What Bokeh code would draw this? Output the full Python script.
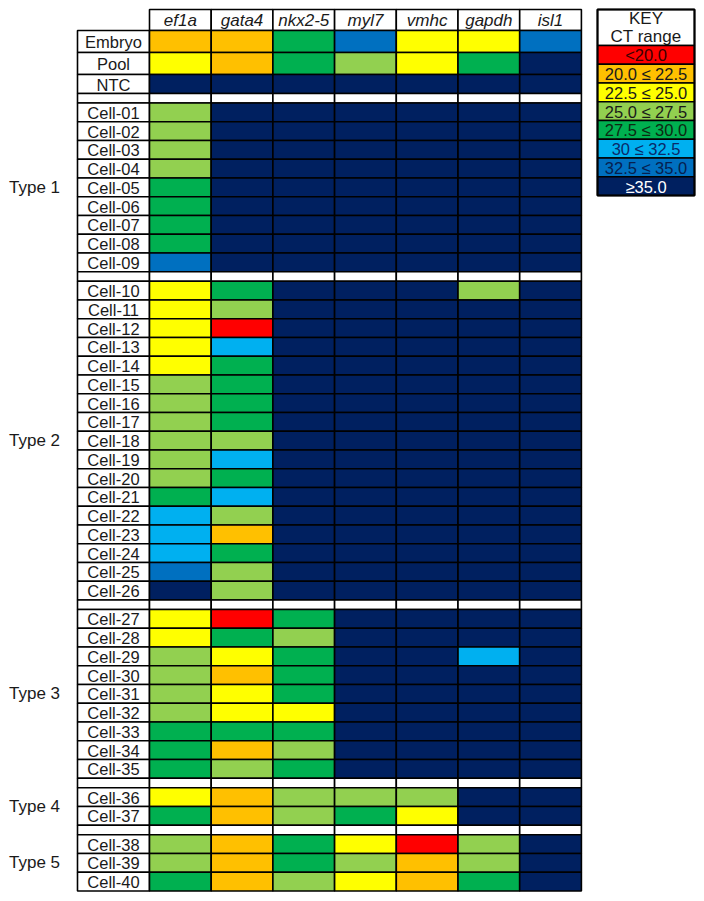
from bokeh.plotting import figure
from bokeh.models import Range1d, ColumnDataSource
from bokeh.embed import file_html
from bokeh.resources import INLINE
from bokeh.core.properties import value

# ---------------- data ----------------
genes = ["ef1a", "gata4", "nkx2-5", "myl7", "vmhc", "gapdh", "isl1"]

key_labels = ["<20.0", "20.0 \u2264 22.5", "22.5 \u2264 25.0", "25.0 \u2264 27.5",
              "27.5 \u2264 30.0", "30 \u2264 32.5", "32.5 \u2264 35.0", "\u226535.0"]
key_colors = ["#FF0000", "#FFC000", "#FFFF00", "#92D050",
              "#00B050", "#00B0F0", "#0070C0", "#002060"]
key_text_colors = ["#3a0000", "#1a1a1a", "#1a1a1a", "#1a1a1a",
                   "#0d2a12", "#0a2a6a", "#06204f", "#ffffff"]

# CT range category codes: index into key_colors
control_labels = ["Embryo", "Pool", "NTC"]
control_codes = [
    [1, 1, 4, 6, 2, 2, 6],
    [2, 1, 4, 3, 2, 4, 7],
    [7, 7, 7, 7, 7, 7, 7],
]

type1_labels = ["Cell-01", "Cell-02", "Cell-03", "Cell-04", "Cell-05",
                "Cell-06", "Cell-07", "Cell-08", "Cell-09"]
type1_codes = [
    [3, 7, 7, 7, 7, 7, 7],
    [3, 7, 7, 7, 7, 7, 7],
    [3, 7, 7, 7, 7, 7, 7],
    [3, 7, 7, 7, 7, 7, 7],
    [4, 7, 7, 7, 7, 7, 7],
    [4, 7, 7, 7, 7, 7, 7],
    [4, 7, 7, 7, 7, 7, 7],
    [4, 7, 7, 7, 7, 7, 7],
    [6, 7, 7, 7, 7, 7, 7],
]

type2_labels = ["Cell-10", "Cell-11", "Cell-12", "Cell-13", "Cell-14", "Cell-15",
                "Cell-16", "Cell-17", "Cell-18", "Cell-19", "Cell-20", "Cell-21",
                "Cell-22", "Cell-23", "Cell-24", "Cell-25", "Cell-26"]
type2_codes = [
    [2, 4, 7, 7, 7, 3, 7],
    [2, 3, 7, 7, 7, 7, 7],
    [2, 0, 7, 7, 7, 7, 7],
    [2, 5, 7, 7, 7, 7, 7],
    [2, 4, 7, 7, 7, 7, 7],
    [3, 4, 7, 7, 7, 7, 7],
    [3, 4, 7, 7, 7, 7, 7],
    [3, 4, 7, 7, 7, 7, 7],
    [3, 3, 7, 7, 7, 7, 7],
    [3, 5, 7, 7, 7, 7, 7],
    [3, 4, 7, 7, 7, 7, 7],
    [4, 5, 7, 7, 7, 7, 7],
    [5, 3, 7, 7, 7, 7, 7],
    [5, 1, 7, 7, 7, 7, 7],
    [5, 4, 7, 7, 7, 7, 7],
    [6, 3, 7, 7, 7, 7, 7],
    [7, 3, 7, 7, 7, 7, 7],
]

type3_labels = ["Cell-27", "Cell-28", "Cell-29", "Cell-30", "Cell-31",
                "Cell-32", "Cell-33", "Cell-34", "Cell-35"]
type3_codes = [
    [2, 0, 4, 7, 7, 7, 7],
    [2, 4, 3, 7, 7, 7, 7],
    [3, 2, 4, 7, 7, 5, 7],
    [3, 1, 4, 7, 7, 7, 7],
    [3, 2, 4, 7, 7, 7, 7],
    [3, 2, 2, 7, 7, 7, 7],
    [4, 4, 4, 7, 7, 7, 7],
    [4, 1, 3, 7, 7, 7, 7],
    [4, 3, 4, 7, 7, 7, 7],
]

type4_labels = ["Cell-36", "Cell-37"]
type4_codes = [
    [2, 1, 3, 3, 3, 7, 7],
    [4, 1, 3, 4, 2, 7, 7],
]

type5_labels = ["Cell-38", "Cell-39", "Cell-40"]
type5_codes = [
    [3, 1, 4, 2, 0, 3, 7],
    [3, 1, 4, 3, 1, 3, 7],
    [4, 1, 3, 2, 1, 4, 7],
]

type_names = ["Type 1", "Type 2", "Type 3", "Type 4", "Type 5"]

# ---------------- layout (pixels, page coordinates) ----------------
W, H = 704, 901
COL0 = 149.0          # left edge of first gene column
COLW = 61.7           # gene column width
LAB_L = 77.0          # left edge of label column
HDR_TOP = 9.0
HDR_BOT = 30.0
CTRL_H = [22.0, 22.0, 19.0]
CELL_H = 18.75
GAP_H = 9.5
KEY_L, KEY_R = 597.0, 694.0
KEY_TOP, KEY_HDR_BOT, KEY_BOT = 9.0, 45.0, 195.0
FONT = "Liberation Sans"
FS = "16.5px"
TXT = "#1a1a1a"
LW = 1.6

p = figure(width=W, height=H, output_backend="svg", toolbar_location=None,
           x_range=Range1d(0, W), y_range=Range1d(H, 0),
           min_border=0, outline_line_color=None, background_fill_color="white")
p.xaxis.visible = False
p.yaxis.visible = False
p.xgrid.visible = False
p.ygrid.visible = False

cells = dict(left=[], right=[], top=[], bottom=[], color=[])
labels_box = dict(left=[], right=[], top=[], bottom=[])
label_txt = dict(x=[], y=[], text=[])


def add_row(label, codes, top, h):
    labels_box["left"].append(LAB_L)
    labels_box["right"].append(COL0)
    labels_box["top"].append(top)
    labels_box["bottom"].append(top + h)
    label_txt["x"].append((LAB_L + COL0) / 2)
    label_txt["y"].append(top + h / 2 + 0.5)
    label_txt["text"].append(label)
    for i, c in enumerate(codes):
        cells["left"].append(COL0 + i * COLW)
        cells["right"].append(COL0 + (i + 1) * COLW)
        cells["top"].append(top)
        cells["bottom"].append(top + h)
        cells["color"].append(key_colors[c])


def add_gap(top, h):
    labels_box["left"].append(LAB_L)
    labels_box["right"].append(COL0)
    labels_box["top"].append(top)
    labels_box["bottom"].append(top + h)
    for i in range(len(genes)):
        cells["left"].append(COL0 + i * COLW)
        cells["right"].append(COL0 + (i + 1) * COLW)
        cells["top"].append(top)
        cells["bottom"].append(top + h)
        cells["color"].append("white")


y = HDR_BOT
for lab, codes, h in zip(control_labels, control_codes, CTRL_H):
    add_row(lab, codes, y, h)
    y += h

type_txt = dict(x=[], y=[], text=[])
groups = [(type1_labels, type1_codes), (type2_labels, type2_codes),
          (type3_labels, type3_codes), (type4_labels, type4_codes),
          (type5_labels, type5_codes)]
for name, (labs, codes) in zip(type_names, groups):
    add_gap(y, GAP_H)
    y += GAP_H
    g_top = y
    for lab, cds in zip(labs, codes):
        add_row(lab, cds, y, CELL_H)
        y += CELL_H
    type_txt["x"].append(34)
    type_txt["y"].append((g_top + y) / 2)
    type_txt["text"].append(name)

# header
hdr = dict(left=[COL0 + i * COLW for i in range(len(genes))],
           right=[COL0 + (i + 1) * COLW for i in range(len(genes))],
           top=[HDR_TOP] * len(genes), bottom=[HDR_BOT] * len(genes),
           x=[COL0 + (i + 0.5) * COLW for i in range(len(genes))],
           y=[(HDR_TOP + HDR_BOT) / 2 + 0.5] * len(genes), text=genes)

p.quad(left="left", right="right", top="top", bottom="bottom",
       source=ColumnDataSource(hdr), fill_color="white", line_color="black", line_width=LW)
p.text(x="x", y="y", text="text", source=ColumnDataSource(hdr),
       text_font=value(FONT), text_font_size="17px", text_font_style="italic",
       text_align="center", text_baseline="middle", text_color=TXT)

p.quad(left="left", right="right", top="top", bottom="bottom",
       source=ColumnDataSource(labels_box), fill_color="white",
       line_color="black", line_width=LW)
p.quad(left="left", right="right", top="top", bottom="bottom",
       source=ColumnDataSource(cells), fill_color="color",
       line_color="black", line_width=LW)
p.text(x="x", y="y", text="text", source=ColumnDataSource(label_txt),
       text_font=value(FONT), text_font_size=FS,
       text_align="center", text_baseline="middle", text_color=TXT)
p.text(x="x", y="y", text="text", source=ColumnDataSource(type_txt),
       text_font=value(FONT), text_font_size="17px",
       text_align="center", text_baseline="middle", text_color=TXT)

# key
n = len(key_labels)
kh = (KEY_BOT - KEY_HDR_BOT) / n
key = dict(left=[KEY_L] * n, right=[KEY_R] * n,
           top=[KEY_HDR_BOT + i * kh for i in range(n)],
           bottom=[KEY_HDR_BOT + (i + 1) * kh for i in range(n)],
           color=key_colors, text=key_labels, tcolor=key_text_colors,
           x=[(KEY_L + KEY_R) / 2] * n,
           y=[KEY_HDR_BOT + (i + 0.5) * kh + 0.5 for i in range(n)])
p.quad(left=KEY_L, right=KEY_R, top=KEY_TOP, bottom=KEY_HDR_BOT,
       fill_color="white", line_color="black", line_width=LW)
p.text(x=[(KEY_L + KEY_R) / 2] * 2, y=[18, 36], text=["KEY", "CT range"],
       text_font=value(FONT), text_font_size="17px",
       text_align="center", text_baseline="middle", text_color=TXT)
p.quad(left="left", right="right", top="top", bottom="bottom",
       source=ColumnDataSource(key), fill_color="color",
       line_color="black", line_width=LW)
p.text(x="x", y="y", text="text", source=ColumnDataSource(key),
       text_font=value(FONT), text_font_size=FS,
       text_align="center", text_baseline="middle", text_color="tcolor")
p.quad(left=KEY_L, right=KEY_R, top=KEY_TOP, bottom=KEY_BOT,
       fill_color=None, line_color="black", line_width=2)

open("out.html", "w").write(file_html(p, INLINE))
